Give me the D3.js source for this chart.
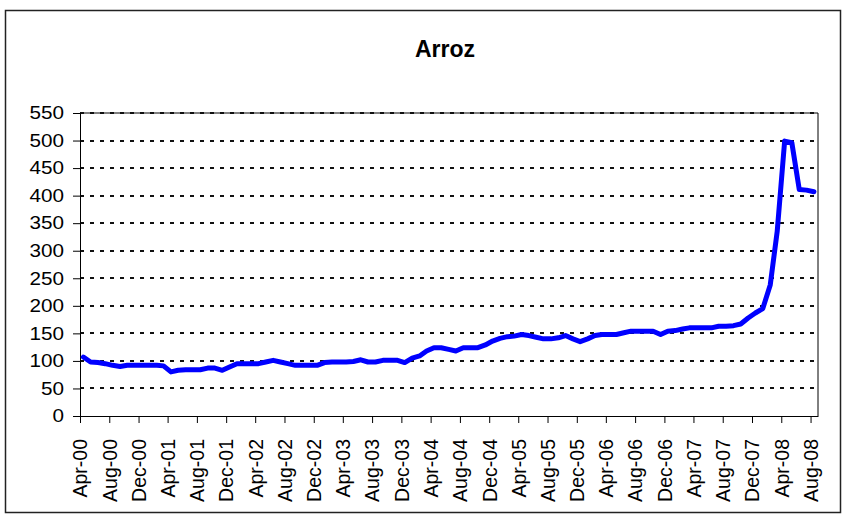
<!DOCTYPE html>
<html>
<head>
<meta charset="utf-8">
<script src="https://cdn.jsdelivr.net/npm/d3@7"></script>
<style>
  html, body { margin: 0; padding: 0; background: #fff; }
  svg { display: block; }
  text { font-family: Arial, "Liberation Sans", sans-serif; fill: #000; }
</style>
</head>
<body>
<svg id="chart" width="842" height="515"></svg>
<script>
// ---- data ----
const title = "Arroz";
const firstMonth = "Apr-00";   // monthly series, Apr-00 .. Aug-08
const values = [
  107, 98, 97, 95, 92, 90, 92, 92, 92, 92,
  92, 91, 80, 83, 84, 84, 84, 87, 87, 83,
  89, 95, 95, 95, 95, 98, 101, 98, 95, 92,
  92, 92, 92, 97, 98, 98, 98, 99, 102, 98,
  98, 101, 101, 101, 97, 105, 109, 118, 124, 124,
  121, 118, 124, 124, 124, 129, 136, 141, 144, 145,
  148, 146, 143, 140, 140, 142, 146, 140, 135, 140,
  146, 148, 148, 148, 151, 154, 154, 154, 154, 148,
  154, 155, 158, 160, 160, 160, 160, 163, 163, 164,
  167, 178, 187, 195, 238, 335, 499, 496, 411, 410,
  407
];
const yTicks = [0, 50, 100, 150, 200, 250, 300, 350, 400, 450, 500, 550];
const xTickLabels = [
  "Apr-00","Aug-00","Dec-00","Apr-01","Aug-01","Dec-01","Apr-02","Aug-02","Dec-02",
  "Apr-03","Aug-03","Dec-03","Apr-04","Aug-04","Dec-04","Apr-05","Aug-05","Dec-05",
  "Apr-06","Aug-06","Dec-06","Apr-07","Aug-07","Dec-07","Apr-08","Aug-08"
];

// ---- layout ----
const svg = d3.select("#chart");
const plot = { left: 80, right: 818, top: 113, bottom: 416 };
const parse = d3.timeParse("%b-%y");
const start = parse(firstMonth);
const monthStarts = d3.timeMonth.range(start, d3.timeMonth.offset(start, values.length));
const data = monthStarts.map((d, i) => ({ date: d3.timeDay.offset(d, 14), value: values[i] }));

const x = d3.scaleTime()
  .domain([start, d3.timeMonth.offset(start, values.length)])
  .range([plot.left, plot.right]);
const y = d3.scaleLinear().domain([0, 550]).range([plot.bottom, plot.top]);

// outer chart border
svg.append("rect")
  .attr("x", 5.5).attr("y", 10.5)
  .attr("width", 835).attr("height", 502)
  .attr("fill", "#fff").attr("stroke", "#222").attr("stroke-width", 1.5);

// title
svg.append("text")
  .attr("x", 445).attr("y", 57)
  .attr("text-anchor", "middle")
  .attr("font-size", 23).attr("font-weight", "bold")
  .text(title);

// plot area border (top & right)
svg.append("path")
  .attr("d", `M${plot.left},${plot.top}H${plot.right}V${plot.bottom}`)
  .attr("fill", "none").attr("stroke", "#000").attr("stroke-width", 1);

// gridlines
svg.append("g").selectAll("line")
  .data(yTicks.filter(t => t > 0))
  .join("line")
  .attr("x1", plot.left).attr("x2", plot.right)
  .attr("y1", d => Math.round(y(d))).attr("y2", d => Math.round(y(d)))
  .attr("stroke", "#111").attr("stroke-width", 2)
  .attr("stroke-dasharray", "4,6");

// y axis
const yAxis = d3.axisLeft(y).tickValues(yTicks).tickSize(7).tickPadding(9);
const gy = svg.append("g").attr("transform", `translate(${plot.left},0)`).call(yAxis);
gy.select(".domain").attr("stroke", "#000");
gy.selectAll(".tick line").attr("stroke", "#000");
gy.selectAll(".tick text")
  .attr("font-size", 18)
  .attr("font-family", "Arial, 'Liberation Sans', sans-serif")
  .attr("fill", "#000")
  .each(function() {
    const t = d3.select(this);
    const xx = +t.attr("x");
    t.attr("x", null).attr("transform", `translate(${xx},0) scale(1.15,1)`);
  });

// x axis
const xAxis = d3.axisBottom(x)
  .tickValues(xTickLabels.map(parse))
  .tickFormat(d3.timeFormat("%b-%y"))
  .tickSize(7).tickSizeOuter(0);
const gx = svg.append("g").attr("transform", `translate(0,${plot.bottom})`).call(xAxis);
gx.select(".domain").attr("stroke", "#000");
gx.selectAll(".tick line").attr("stroke", "#000");
gx.selectAll(".tick text")
  .attr("font-size", 19.5)
  .attr("font-family", "Arial, 'Liberation Sans', sans-serif")
  .attr("fill", "#000")
  .attr("text-anchor", "end")
  .attr("dy", "0.35em")
  .attr("x", 0).attr("y", 0)
  .attr("transform", "translate(0,23) rotate(-90)");

// line
const line = d3.line().x(d => x(d.date)).y(d => y(d.value));
svg.append("path")
  .datum(data)
  .attr("d", line)
  .attr("fill", "none")
  .attr("stroke", "#0000ff")
  .attr("stroke-width", 5)
  .attr("stroke-linejoin", "round")
  .attr("stroke-linecap", "round");
</script>
</body>
</html>
